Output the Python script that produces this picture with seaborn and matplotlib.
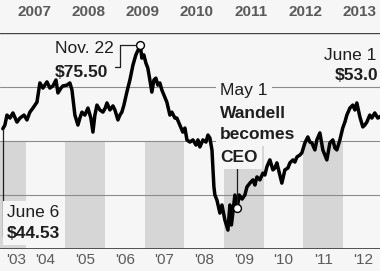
import matplotlib
matplotlib.use("Agg")
import matplotlib.pyplot as plt
import matplotlib.dates as mdates
from matplotlib.lines import Line2D
from matplotlib.transforms import IdentityTransform
import pandas as pd
import seaborn as sns

# --- data (share price, $) ---
dates = [
    "2003-06-06", "2003-06-25", "2003-07-14", "2003-08-11", "2003-09-07", "2003-10-14",
    "2003-11-11", "2003-12-18", "2004-01-14", "2004-02-10", "2004-03-09", "2004-04-15",
    "2004-05-12", "2004-06-09", "2004-07-16", "2004-08-12", "2004-09-09", "2004-10-07",
    "2004-10-25", "2004-11-22", "2004-12-10", "2005-01-16", "2005-02-12", "2005-03-03",
    "2005-03-30", "2005-04-27", "2005-05-15", "2005-06-03", "2005-06-30", "2005-07-28",
    "2005-08-24", "2005-09-12", "2005-09-30", "2005-10-19", "2005-11-15", "2005-12-13",
    "2006-01-03", "2006-01-19", "2006-02-15", "2006-03-15", "2006-04-02", "2006-04-30",
    "2006-05-18", "2006-06-05", "2006-06-24", "2006-07-21", "2006-08-18", "2006-09-15",
    "2006-10-12", "2006-11-22", "2006-12-06", "2006-12-24", "2007-01-12", "2007-01-30",
    "2007-02-18", "2007-03-08", "2007-03-27", "2007-04-14", "2007-05-02", "2007-05-21",
    "2007-06-08", "2007-06-27", "2007-07-24", "2007-08-21", "2007-09-08", "2007-10-06",
    "2007-10-24", "2007-11-20", "2007-12-18", "2008-01-06", "2008-01-25", "2008-02-21",
    "2008-03-20", "2008-04-17", "2008-05-05", "2008-05-23", "2008-06-20", "2008-07-18",
    "2008-08-05", "2008-08-23", "2008-09-11", "2008-09-29", "2008-10-08", "2008-10-27",
    "2008-11-23", "2008-12-12", "2009-01-08", "2009-02-05", "2009-02-23", "2009-03-09",
    "2009-03-23", "2009-04-10", "2009-04-20", "2009-05-01", "2009-05-20", "2009-06-15",
    "2009-07-11", "2009-07-30", "2009-08-26", "2009-09-23", "2009-10-11", "2009-10-30",
    "2009-11-26", "2009-12-24", "2010-01-11", "2010-01-29", "2010-02-26", "2010-03-26",
    "2010-04-13", "2010-05-01", "2010-05-29", "2010-06-16", "2010-07-14", "2010-08-11",
    "2010-08-29", "2010-09-26", "2010-10-14", "2010-11-02", "2010-11-29", "2010-12-17",
    "2011-01-14", "2011-02-10", "2011-03-01", "2011-03-19", "2011-04-16", "2011-05-04",
    "2011-06-01", "2011-06-28", "2011-07-17", "2011-08-04", "2011-09-01", "2011-09-28",
    "2011-10-17", "2011-11-04", "2011-12-02", "2011-12-28", "2012-01-17", "2012-02-04",
    "2012-03-03", "2012-03-30", "2012-04-18", "2012-05-06", "2012-06-03", "2012-06-30",
    "2012-07-18", "2012-08-06", "2012-09-02", "2012-09-21", "2012-10-18", "2012-11-15",
    "2012-12-03", "2013-01-19", "2013-03-06", "2013-04-21", "2013-06-01",
]
prices = [
    44.53, 45.9, 49.6, 48.5, 50.4, 47.0,
    48.5, 49.6, 47.8, 50.7, 52.2, 54.4,
    61.5, 59.6, 61.9, 59.6, 60.4, 62.6,
    57.8, 59.6, 60.4, 60.7, 61.5, 58.9,
    49.6, 45.9, 48.5, 50.7, 49.6, 52.2,
    48.5, 43.3, 49.6, 53.3, 51.5, 50.7,
    52.2, 54.1, 51.5, 53.0, 51.5, 47.8,
    49.6, 50.7, 53.3, 58.1, 62.6, 68.1,
    71.9, 75.50, 70.7, 71.9, 68.9, 67.0,
    62.6, 58.1, 62.6, 63.3, 60.7, 61.5,
    58.9, 57.0, 54.4, 49.6, 50.7, 48.5,
    48.5, 45.9, 43.3, 44.8, 40.4, 39.6,
    40.4, 38.5, 40.4, 37.8, 40.4, 39.6,
    42.2, 41.1, 36.7, 23.0, 20.0, 18.1,
    13.3, 16.3, 10.7, 7.0, 16.3, 8.9,
    13.7, 20.0, 18.1, 15.2, 20.0, 18.5,
    20.0, 23.0, 24.4, 25.6, 23.7, 26.7,
    25.6, 28.1, 27.4, 30.4, 33.0, 29.3,
    30.0, 31.9, 27.4, 24.4, 29.3, 30.0,
    31.9, 33.0, 32.2, 34.1, 34.8, 35.6,
    39.3, 41.5, 39.6, 39.3, 36.7, 40.4,
    43.0, 36.7, 34.8, 33.0, 39.3, 40.4,
    37.4, 36.7, 40.4, 44.8, 47.0, 49.6,
    52.2, 53.3, 51.5, 54.1, 48.9, 45.2,
    45.9, 47.0, 49.6, 48.5, 50.4, 48.5,
    48.9, 50.7, 49.6, 51.5, 53.0,
]

marker_dates = ["2006-11-22", "2009-05-01"]   # Nov. 22 high, Wandell becomes CEO
band_years = [2003, 2005, 2007, 2009, 2011]
axis_years = list(range(2003, 2013))
axis_labels = ["'03", "'04", "'05", "'06", "'07", "'08", "'09", "'10", "'11", "'12"]
top_years = [2007, 2008, 2009, 2010, 2011, 2012, 2013]
grid_levels = [20, 40, 60]

BG = "#f6f6f6"
INK = "#1e1e1e"
GRAY_TXT = "#5a5a5a"

sns.set_style("white")
plt.rcParams["font.family"] = ["Liberation Sans", "DejaVu Sans"]

df = pd.DataFrame({"date": pd.to_datetime(dates), "price": prices})
mk = df[df["date"].isin(pd.to_datetime(marker_dates))].reset_index(drop=True)

W, H = 380, 271
fig = plt.figure(figsize=(W / 100, H / 100), dpi=100, facecolor=BG)


def fx(x, y):
    # reference pixel -> figure fraction
    return x / W, 1 - y / H


# main plot area: $0 at y=249px, $80 at y=33px
ax = fig.add_axes([0, (H - 249) / H, 1, 216 / H])
ax.set_facecolor(BG)

for y in band_years:
    ax.axvspan(pd.Timestamp(f"{y}-01-01"), pd.Timestamp(f"{y + 1}-01-01"),
               ymin=0, ymax=0.5, color="#d6d6d6", lw=0, zorder=0)
for g in grid_levels:
    ax.axhline(g, color="#8c8c8c", lw=0.8, zorder=1)
ax.axhline(80, color="#444444", lw=1.0, zorder=1)
ax.axhline(0, color="#444444", lw=1.3, zorder=1)

sns.lineplot(data=df, x="date", y="price", color="black", lw=2.5, ax=ax, zorder=6)
sns.scatterplot(data=mk, x="date", y="price", s=32, color="white",
                edgecolor="black", linewidth=1.0, ax=ax, zorder=7)

ax.set_xlim(pd.Timestamp("2003-05-11"), pd.Timestamp("2012-12-05"))
ax.set_ylim(0, 80)
ax.set_xlabel("")
ax.set_ylabel("")
ax.set_yticks([])
ax.set_xticks([pd.Timestamp(f"{y}-07-02") for y in axis_years])
ax.set_xticklabels(axis_labels, fontsize=11, color=GRAY_TXT)
ax.tick_params(axis="x", length=0, pad=3)
ax.get_xticklabels()[0].set_horizontalalignment("left")
sns.despine(ax=ax, left=True, bottom=True, top=True, right=True)

# strip of year labels across the top
ax_top = fig.add_axes([0, (H - 33) / H, 1, 33 / H])
ax_top.set_xlim(2006.874, 2013.87)
ax_top.set_ylim(0, 1)
ax_top.axis("off")
for y in top_years:
    ax_top.text(y + 0.5, 0.64, str(y), ha="center", va="center", fontsize=11,
                fontweight="bold", color=GRAY_TXT)

# annotations
box = dict(facecolor=BG, edgecolor="none", pad=3)
TS = 12.5


def label(x, y, s, bold=False, bbox=None, ha="left"):
    fig.text(*fx(x, y), s, fontsize=TS, color=INK, ha=ha, va="baseline",
             fontweight="bold" if bold else "normal", bbox=bbox, zorder=5)


label(55, 53, "Nov. 22")
label(55, 77, "$75.50", bold=True)
label(220, 95, "May 1", bbox=box)
label(220, 118, "Wandell", bold=True, bbox=box)
label(220, 139, "becomes", bold=True, bbox=box)
label(220, 162, "CEO", bold=True, bbox=box)
label(7, 217, "June 6", bbox=box)
label(7, 238, "$44.53", bold=True, bbox=box)
label(376, 60, "June 1", ha="right")
label(378, 80, "$53.0", bold=True, ha="right")


# leader lines (display pixels, relative to the marked points)
def to_px(d, v):
    return ax.transData.transform((mdates.date2num(pd.Timestamp(d)), v))


def leader(xs, ys):
    fig.add_artist(Line2D(xs, ys, transform=IdentityTransform(), color=INK, lw=0.9, zorder=4))


px, py = to_px(mk["date"][0], mk["price"][0])
leader([px - 25, px - 20, px - 20, px - 4], [py - 22, py - 22, py, py])

cx, cy = to_px(mk["date"][1], mk["price"][1])
leader([cx, cx], [cy + 4, H - 167])

sx, sy = to_px(df["date"][0], df["price"][0])
leader([sx, sx, sx + 4], [sy, H - 236, H - 236])

fig.savefig("out.png", dpi=100, facecolor=BG)
